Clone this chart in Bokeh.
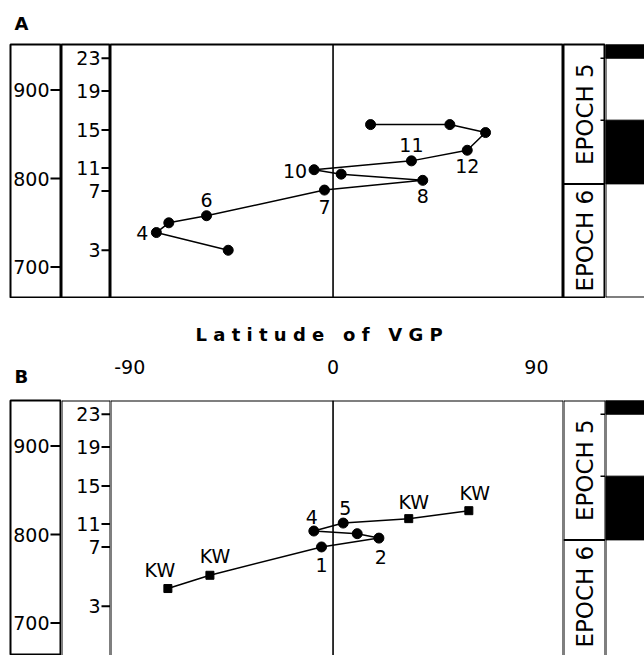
from bokeh.plotting import figure
from bokeh.layouts import row, column
from bokeh.models import Range1d, Span, LinearAxis, FixedTicker, Title, ColumnDataSource
from bokeh.core.properties import value
from bokeh.embed import file_html
from bokeh.resources import INLINE

# ---------------- data ----------------
# Panel A: VGP latitude path, age in ka
a_lat = [-46.4, -78.2, -72.7, -56.0, -3.8, 39.7, 3.6, -8.4, 34.7, 59.4, 67.5, 51.7, 16.6]
a_age = [719, 739, 750, 758, 787, 798, 805, 810, 820, 832, 852, 861, 861]
a_labels = ["", "4", "", "6", "7", "8", "", "10", "11", "12", "", "", ""]

# Panel B
b_lat = [-73.1, -54.5, -5.1, 20.3, 10.7, -8.5, 4.5, 33.5, 60.1]
b_age = [739, 754, 786, 796, 801, 804, 813, 818, 827]
b_labels = ["KW", "KW", "1", "2", "", "4", "5", "KW", "KW"]
b_kind = ["KW", "KW", "site", "site", "site", "site", "site", "KW", "KW"]

age_ticks = [700, 800, 900]
age_tick_labels = ["700", "800", "900"]
level_tick_age = [719, 786, 812, 855, 899, 936]
level_tick_labels = ["3", "7", "11", "15", "19", "23"]
lat_ticks = [-90, 0, 90]
lat_tick_labels = ["-90", "0", "90"]
x_title = "Latitude of VGP"
panel_letters = ["A", "B"]

epoch_names = ["EPOCH 6", "EPOCH 5"]
epoch_boundary = 794
black_from = [794, 936]
black_to = [866, 990]
polarity_ticks = [866, 936]

# ---------------- styling / layout ----------------
FONT = "DejaVu Sans"
AGE_MIN, AGE_MAX = 665.6, 951.5
FRAME_A = 253
FRAME_B = 255
PX_PER_KA = FRAME_A / (AGE_MAX - AGE_MIN)
AGE_MIN_B = AGE_MAX - FRAME_B / PX_PER_KA
LAT_RANGE = (-98.5, 102.0)
W1, W2, W3, W4, W5 = 51, 49, 453, 42, 39
LEFT_PAD = 10
LW = 2
TXT = "19px"

a_dx = [0, -8, 0, 0, 0, 0, 0, -7, 0, 0, 0, 0, 0]
a_dy = [0, 0, 0, -16, 17, 16, 0, 1, -16, 16, 0, 0, 0]
a_align = ["center", "right", "center", "center", "center", "center", "center", "right",
           "center", "center", "center", "center", "center"]
b_dx = [-8, 5, 0, 2, 0, -2, 2, 5, 6]
b_dy = [-19, -19, 18, 19, 0, -14, -15, -17, -18]


def make_fig(width, xr, amin, frame_h, top, bottom, left=0, outline=False, title=None):
    p = figure(width=width + left, height=top + frame_h + bottom,
               x_range=Range1d(*xr), y_range=Range1d(amin, AGE_MAX),
               output_backend="svg", toolbar_location=None,
               x_axis_location=None, y_axis_location=None,
               min_border=0, title=title)
    p.min_border_left = left
    p.min_border_right = 0
    p.min_border_top = top
    p.min_border_bottom = bottom
    p.grid.visible = False
    p.outline_line_color = "black" if outline else None
    p.outline_line_width = LW
    p.outline_line_alpha = 1.0
    p.background_fill_color = "white"
    p.border_fill_color = "white"
    return p


def edges(p, xr, amin, sides):
    loc = {"left": (xr[0], "height"), "right": (xr[1], "height"),
           "top": (AGE_MAX, "width"), "bottom": (amin, "width")}
    for s in sides:
        l, d = loc[s]
        p.add_layout(Span(location=l, dimension=d, line_color="black", line_width=LW))


def build_row(lat, age, labels, dx, dy, align, kinds, amin, frame_h, top, bottom,
              letter, letter_valign, letter_standoff, with_axis):
    full = bool(bottom)   # panel A: closed box; panel B: runs off the page bottom
    sides = ["left", "right", "top"] + (["bottom"] if full else [])

    # column 1 : age (ka)
    f1 = make_fig(W1, (0, 1), amin, frame_h, top, bottom, left=LEFT_PAD, outline=True,
                  title=letter)
    f1.title.text_font = FONT
    f1.title.text_font_size = "18px"
    f1.title.text_font_style = "bold"
    f1.title.text_color = "black"
    f1.title.align = "left"
    f1.title.offset = 4
    f1.title.vertical_align = letter_valign
    f1.title.standoff = letter_standoff
    f1.scatter(x=[1] * len(age_ticks), y=age_ticks, marker="dash", size=22,
               line_color="black", line_width=2)
    f1.text(x=[1] * len(age_ticks), y=age_ticks, text=age_tick_labels, x_offset=-12,
            text_align="right", text_baseline="middle", text_font=value(FONT),
            text_font_size=TXT, text_color="black")

    # column 2 : sample levels
    f2 = make_fig(W2, (0, 1), amin, frame_h, top, bottom, outline=full)
    if not full:
        edges(f2, (0, 1), amin, sides)
    f2.scatter(x=[1] * len(level_tick_age), y=level_tick_age, marker="dash", size=18,
               line_color="black", line_width=2)
    f2.text(x=[1] * len(level_tick_age), y=level_tick_age, text=level_tick_labels,
            x_offset=-10, text_align="right", text_baseline="middle",
            text_font=value(FONT), text_font_size=TXT, text_color="black")

    # column 3 : VGP latitude
    f3 = make_fig(W3, LAT_RANGE, amin, frame_h, top, bottom, outline=full)
    if not full:
        edges(f3, LAT_RANGE, amin, sides)
    f3.add_layout(Span(location=0, dimension="height", line_color="black", line_width=1.6))
    f3.line(lat, age, line_color="black", line_width=1.5)
    src = ColumnDataSource(dict(x=lat, y=age, t=labels, dx=dx, dy=dy, al=align))
    circ = [i for i, k in enumerate(kinds) if k != "KW"]
    sq = [i for i, k in enumerate(kinds) if k == "KW"]
    if circ:
        f3.scatter([lat[i] for i in circ], [age[i] for i in circ], marker="circle",
                   size=10, color="black")
    if sq:
        f3.scatter([lat[i] for i in sq], [age[i] for i in sq], marker="square",
                   size=8, color="black")
    f3.text(x="x", y="y", text="t", x_offset="dx", y_offset="dy", text_align="al",
            text_baseline="middle", text_font=value(FONT), text_font_size=TXT,
            text_color="black", source=src)
    if with_axis:
        ax = LinearAxis(ticker=FixedTicker(ticks=lat_ticks),
                        major_label_overrides=dict(zip(lat_ticks, lat_tick_labels)),
                        axis_line_color=None, major_tick_line_color=None,
                        minor_tick_line_color=None, major_tick_out=0, major_tick_in=0,
                        major_label_standoff=27, major_label_text_font=FONT,
                        major_label_text_font_size=TXT, major_label_text_color="black")
        f3.add_layout(ax, "above")
        nb = "\u00a0"
        spaced = (nb * 3).join(nb.join(w) for w in x_title.split(" "))
        f3.add_layout(Title(text=spaced, align="left", offset=85, standoff=23,
                            text_font=FONT, text_font_size="18px",
                            text_font_style="bold", text_color="black"), "above")

    # column 4 : epochs
    f4 = make_fig(W4, (0, 1), amin, frame_h, top, bottom, outline=full)
    if not full:
        edges(f4, (0, 1), amin, sides)
    f4.add_layout(Span(location=epoch_boundary, dimension="width", line_color="black",
                       line_width=LW))
    mids = [(AGE_MIN + epoch_boundary) / 2, (epoch_boundary + AGE_MAX) / 2]
    f4.text(x=[0.5, 0.5], y=mids, text=epoch_names, angle=90, angle_units="deg",
            text_align="center", text_baseline="middle", text_font=value(FONT),
            text_font_size="23px", text_color="black")
    f4.scatter(x=[1] * len(polarity_ticks), y=polarity_ticks, marker="dash", size=10,
               line_color="black", line_width=1.5)

    # column 5 : polarity (runs off the right edge of the page)
    f5 = make_fig(W5, (0, 1), amin, frame_h, top, bottom)
    edges(f5, (0, 1), amin, ["left", "top"] + (["bottom"] if full else []))
    f5.quad(left=0, right=1, bottom=black_from, top=black_to, color="black")

    return row(f1, f2, f3, f4, f5)


rowA = build_row(a_lat, a_age, a_labels, a_dx, a_dy, a_align, ["site"] * len(a_lat),
                 AGE_MIN, FRAME_A, 44, 1, panel_letters[0], "top", 18, False)
rowB = build_row(b_lat, b_age, b_labels, b_dx, b_dy, ["center"] * len(b_lat), b_kind,
                 AGE_MIN_B, FRAME_B, 102, 0, panel_letters[1], "bottom", 27, True)

layout = column(rowA, rowB)
open("out.html", "w").write(file_html(layout, INLINE))
